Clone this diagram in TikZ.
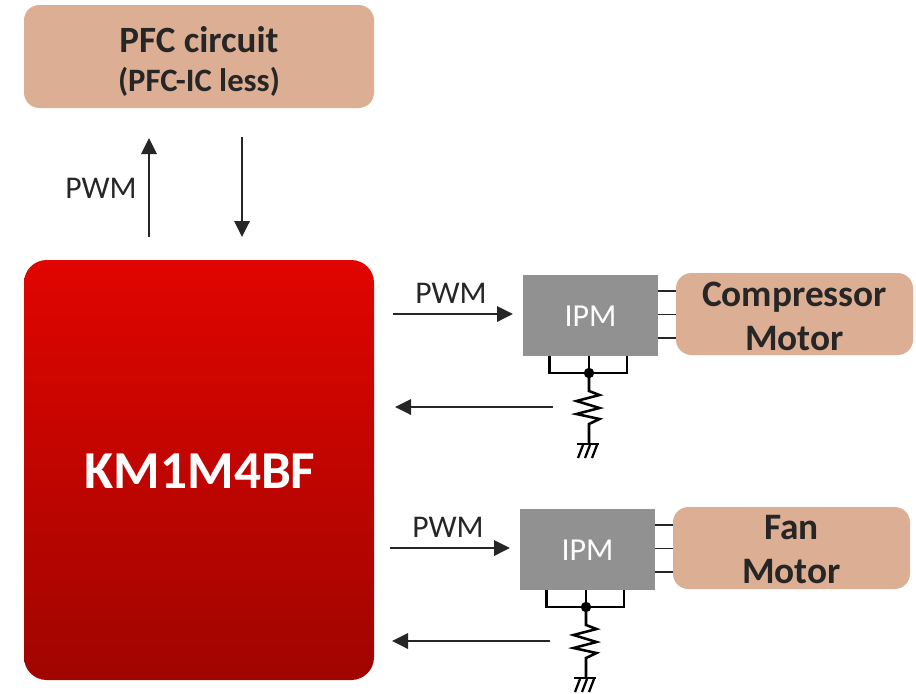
\documentclass[tikz,border=0pt]{standalone}
\usepackage{fontspec}
\setmainfont{Carlito}
\usetikzlibrary{arrows.meta}
\definecolor{tan}{HTML}{DCAE94}
\definecolor{ipmgray}{HTML}{919191}
\definecolor{ink}{HTML}{262626}
\definecolor{mainred}{HTML}{E00500}
\definecolor{maindark}{HTML}{A00500}
\tikzset{
  tanbox/.style={fill=tan,draw=none,rounded corners=11.5pt,inner sep=0pt,align=center,text=ink,font=\bfseries},
  ipmbox/.style={fill=ipmgray,draw=none,inner sep=0pt},
  ipmtext/.style={text=white,inner sep=0pt,font=\fontsize{24}{28}\selectfont},
  motortext/.style={text=ink,inner sep=0pt,align=center,font=\bfseries\fontsize{28}{33}\selectfont},
  conn/.style={draw=ink,line width=1.8pt,-{Triangle[length=12pt,width=11.5pt]}},
  stub/.style={draw=ink,line width=1pt},
  wire/.style={draw=black,line width=1.9pt,line join=miter},
  lbl/.style={text=ink,font=\fontsize{23.7}{28}\selectfont,inner sep=0pt},
}
% #1 prefix, #2 dx, #3 dy, #4 motor text
\newcommand{\ipmgroup}[4]{%
\begin{scope}[shift={(#2,#3)}]
  \node[ipmbox,minimum width=101.25pt,minimum height=60.75pt] (#1ipm) at (590.5,315.5) {};
  \node[ipmtext] (#1ipmt) at (590.5,316.5) {IPM};
  \node[tanbox,minimum width=177.75pt,minimum height=61.5pt] (#1motor) at (794.5,314) {};
  \node[motortext] (#1motort) at (794.5,316) {#4};
  \coordinate (#1ta) at (658,291);
  \coordinate (#1tb) at (658,314.5);
  \coordinate (#1tc) at (658,338);
  \draw[stub] (#1ta) -- (#1ta -| #1motor.west);
  \draw[stub] (#1tb) -- (#1tb -| #1motor.west);
  \draw[stub] (#1tc) -- (#1tc -| #1motor.west);
  \coordinate (#1l) at (549.5,356);
  \coordinate (#1m) at (589,356);
  \coordinate (#1r) at (627,356);
  \coordinate (#1j) at (589,373);
  \coordinate (#1g) at (589,444);
  \draw[wire] (#1l) -- (#1l |- #1j) -- (#1r |- #1j) -- (#1r);
  \draw[wire] (#1m) -- (#1j);
  \fill[black] (#1j) circle[radius=3.9pt];
  \draw[wire] (#1j) -- (589,391) -- (599.5,395) -- (576.5,401) -- (599.5,408) -- (576.5,414) -- (599.5,419) -- (589,424) -- (#1g);
  \draw[wire] (577,444) -- (599,444);
  \draw[wire,line width=1.7pt] (583,445) -- (578,458) (590,445) -- (585,458) (597,445) -- (592,458);
  \node[lbl] (#1pwm) at (451,293) {PWM};
  \coordinate (#1as) at (393,314);
  \coordinate (#1bs) at (553,407);
  \coordinate (#1be) at (395,407);
  \draw[conn] (#1as) -- (513,314);
  \draw[conn] (#1bs) -- (#1be);
\end{scope}}
\begin{document}
\begin{tikzpicture}[x=0.75pt,y=-0.75pt]
\useasboundingbox (0,0) rectangle (916,693);
\clip (0,0) rectangle (916,693);
\node[tanbox,minimum width=262.5pt,minimum height=77.25pt] (pfc) at (199,56.5) {};
\node[font=\bfseries\fontsize{27.8}{32}\selectfont,text=ink,inner sep=0pt] (pfct) at (199,40) {PFC circuit};
\node[font=\bfseries\fontsize{24.5}{28}\selectfont,text=ink,inner sep=0pt] (pfcs) at (199,82) {(PFC-IC less)};
\node[rounded corners=17pt,minimum width=262.5pt,minimum height=315pt,inner sep=0pt,
  top color=mainred,bottom color=maindark] (km) at (199,470) {};
\node[text=white,inner sep=0pt,font=\bfseries\fontsize{40}{44}\selectfont] (kmt) at (200,471) {KM1M4BF};
\coordinate (ua) at (149,237);
\coordinate (ub) at (149,138);
\coordinate (da) at (242,137);
\coordinate (db) at (242,237);
\draw[conn] (ua) -- (ub);
\draw[conn] (da) -- (db);
\node[lbl] (pwm) at (101,188) {PWM};
\ipmgroup{a}{0}{0}{Compressor\\Motor}
\ipmgroup{b}{-3}{234}{Fan\\Motor}
\end{tikzpicture}
\end{document}
